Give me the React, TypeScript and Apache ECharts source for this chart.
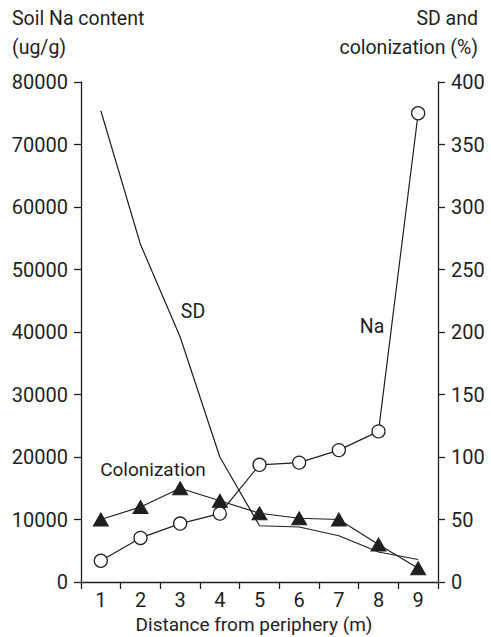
import React, { useEffect, useRef } from "react";
import * as echarts from "echarts";

const categories = ["1", "2", "3", "4", "5", "6", "7", "8", "9"];
const naValues = [3400, 7050, 9350, 10950, 18750, 19100, 21100, 24100, 75000];
const colonizationValues = [50, 60, 75, 65, 55, 51, 50, 30, 11];
const sdValues = [377, 270, 196, 100, 45, 44, 37, 24, 18];

const FONT = "Roboto";
const INK = "#1f1f1f";

export default function App() {
  const ref = useRef<HTMLDivElement>(null);
  useEffect(() => {
    if (!ref.current) return;
    const chart = echarts.init(ref.current, undefined, { renderer: "svg" });
    const axisCommon = {
      axisLine: { show: true, lineStyle: { color: INK, width: 1.3 } },
      axisTick: { show: true, inside: false, length: 7, lineStyle: { color: INK, width: 1.3 } },
      axisLabel: { color: INK, fontSize: 20, fontFamily: FONT, margin: 13, formatter: (v: number) => String(v) },
      splitLine: { show: false },
    };
    const t = (text: string, x: number, y: number, align: string, size = 19.5) => ({
      type: "text",
      x,
      y,
      style: { text, fill: INK, font: `${size}px ${FONT}`, align, verticalAlign: "middle" },
    });
    chart.setOption({
      animation: false,
      backgroundColor: "#ffffff",
      textStyle: { fontFamily: FONT },
      grid: { left: 81, right: 53, top: 82, height: 500 },
      xAxis: {
        type: "category",
        data: categories,
        boundaryGap: true,
        axisLine: { show: true, onZero: false, lineStyle: { color: INK, width: 1.3 } },
        axisTick: { show: true, inside: false, length: 7, alignWithLabel: false, lineStyle: { color: INK, width: 1.3 } },
        axisLabel: { color: INK, fontSize: 20, fontFamily: FONT, margin: 8 },
        splitLine: { show: false },
      },
      yAxis: [
        { type: "value", min: 0, max: 80000, interval: 10000, position: "left", ...axisCommon },
        { type: "value", min: 0, max: 400, interval: 50, position: "right", ...axisCommon },
      ],
      series: [
        {
          name: "SD",
          type: "line",
          yAxisIndex: 1,
          data: sdValues,
          showSymbol: false,
          symbol: "none",
          lineStyle: { color: INK, width: 1.2 },
          z: 2,
        },
        {
          name: "Colonization",
          type: "line",
          yAxisIndex: 1,
          data: colonizationValues,
          symbol: "triangle",
          symbolSize: [15, 13],
          lineStyle: { color: INK, width: 1.2 },
          itemStyle: { color: INK, borderColor: INK },
          z: 3,
        },
        {
          name: "Na",
          type: "line",
          yAxisIndex: 0,
          data: naValues,
          symbol: "circle",
          symbolSize: 13,
          lineStyle: { color: INK, width: 1.2 },
          itemStyle: { color: "#ffffff", borderColor: INK, borderWidth: 1.3 },
          z: 4,
        },
      ],
      graphic: [
        t("Soil Na content", 12, 18, "left"),
        t("(ug/g)", 12, 47, "left"),
        t("SD and", 478, 18, "right"),
        t("colonization (%)", 478, 47, "right"),
        t("SD", 193, 311, "center"),
        t("Na", 372, 326, "center"),
        t("Colonization", 153, 469, "center", 19),
        t("Distance from periphery (m)", 254, 624, "center", 19),
      ],
    });
    return () => chart.dispose();
  }, []);
  return <div ref={ref} style={{ width: 491, height: 637, position: "fixed", left: 0, top: 0 }} />;
}
